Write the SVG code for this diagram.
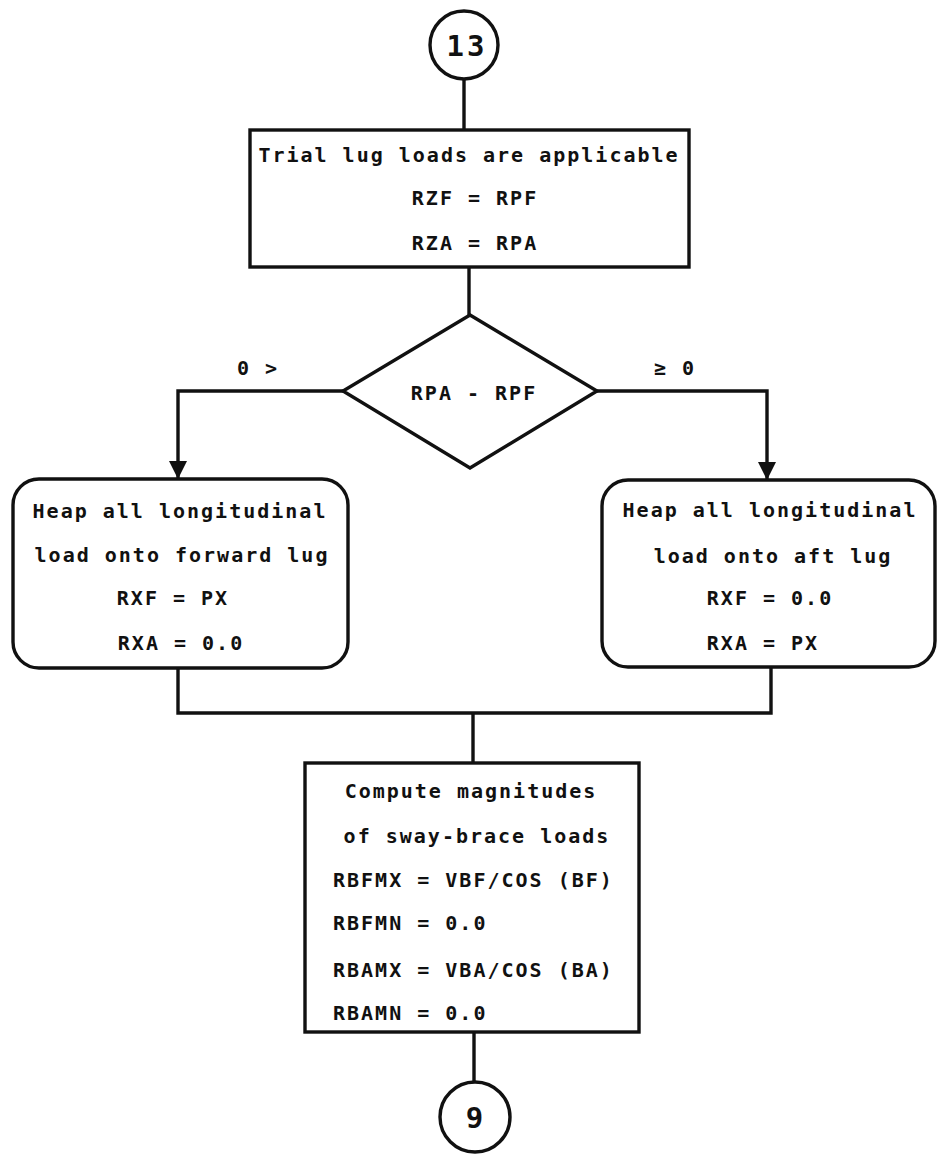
<svg xmlns="http://www.w3.org/2000/svg" width="937" height="1155" viewBox="0 0 937 1155">
<style>
.t { font-family: "DejaVu Sans Mono", "Liberation Mono", monospace; font-size: 20px; font-weight: bold; letter-spacing: 2px; fill: #111; }
.c { text-anchor: middle; }
.n { font-family: "DejaVu Sans Mono", "Liberation Mono", monospace; font-size: 29px; font-weight: bold; letter-spacing: 3px; text-anchor: middle; fill: #111; }
.shape { fill: #fff; stroke: #111; stroke-width: 3.4; }
.conn { fill: none; stroke: #111; stroke-width: 3.4; }
</style>
<defs>
<marker id="arr" viewBox="0 0 18 18" refX="18" refY="9" markerWidth="18" markerHeight="18" orient="auto" markerUnits="userSpaceOnUse">
<path d="M0,0 L18,9 L0,18 z" fill="#111"/>
</marker>
</defs>
<g id="connectors">
<path class="conn" d="M464,79 V130"/>
<path class="conn" d="M469,267 V315"/>
<path class="conn" d="M343,391 H178 V479" marker-end="url(#arr)"/>
<path class="conn" d="M597,391 H767 V480" marker-end="url(#arr)"/>
<path class="conn" d="M178,668 V713 H771 V667"/>
<path class="conn" d="M473,713 V763"/>
<path class="conn" d="M474,1032 V1082"/>
<text class="t c" x="258" y="375">0 &gt;</text>
<text class="t c" x="675" y="375">≥ 0</text>
</g>
<g id="start13">
<circle class="shape" cx="464" cy="45" r="34"/>
<text class="n" x="467" y="56">13</text>
</g>
<g id="trial">
<rect class="shape" x="250" y="130" width="439" height="137"/>
<text class="t c" x="469" y="162">Trial lug loads are applicable</text>
<text class="t c" x="475" y="205">RZF = RPF</text>
<text class="t c" x="475" y="250">RZA = RPA</text>
</g>
<g id="decision">
<polygon class="shape" points="470,315 597,391 470,468 343,391"/>
<text class="t c" x="474" y="400">RPA - RPF</text>
</g>
<g id="forward">
<rect class="shape" x="13" y="479" width="335" height="189" rx="26" ry="26"/>
<text class="t c" x="180" y="518">Heap all longitudinal</text>
<text class="t c" x="182" y="562">load onto forward lug</text>
<text class="t c" x="173" y="605">RXF = PX</text>
<text class="t c" x="181" y="650">RXA = 0.0</text>
</g>
<g id="aft">
<rect class="shape" x="602" y="480" width="333" height="187" rx="26" ry="26"/>
<text class="t c" x="770" y="517">Heap all longitudinal</text>
<text class="t c" x="773" y="563">load onto aft lug</text>
<text class="t c" x="770" y="605">RXF = 0.0</text>
<text class="t c" x="763" y="650">RXA = PX</text>
</g>
<g id="compute">
<rect class="shape" x="305" y="763" width="334" height="269"/>
<text class="t c" x="471" y="798">Compute magnitudes</text>
<text class="t c" x="477" y="843">of sway-brace loads</text>
<text class="t" x="333" y="887">RBFMX = VBF/COS (BF)</text>
<text class="t" x="333" y="930">RBFMN = 0.0</text>
<text class="t" x="333" y="977">RBAMX = VBA/COS (BA)</text>
<text class="t" x="333" y="1020">RBAMN = 0.0</text>
</g>
<g id="end9">
<circle class="shape" cx="475" cy="1117" r="35"/>
<text class="n" x="476" y="1128">9</text>
</g>
</svg>
